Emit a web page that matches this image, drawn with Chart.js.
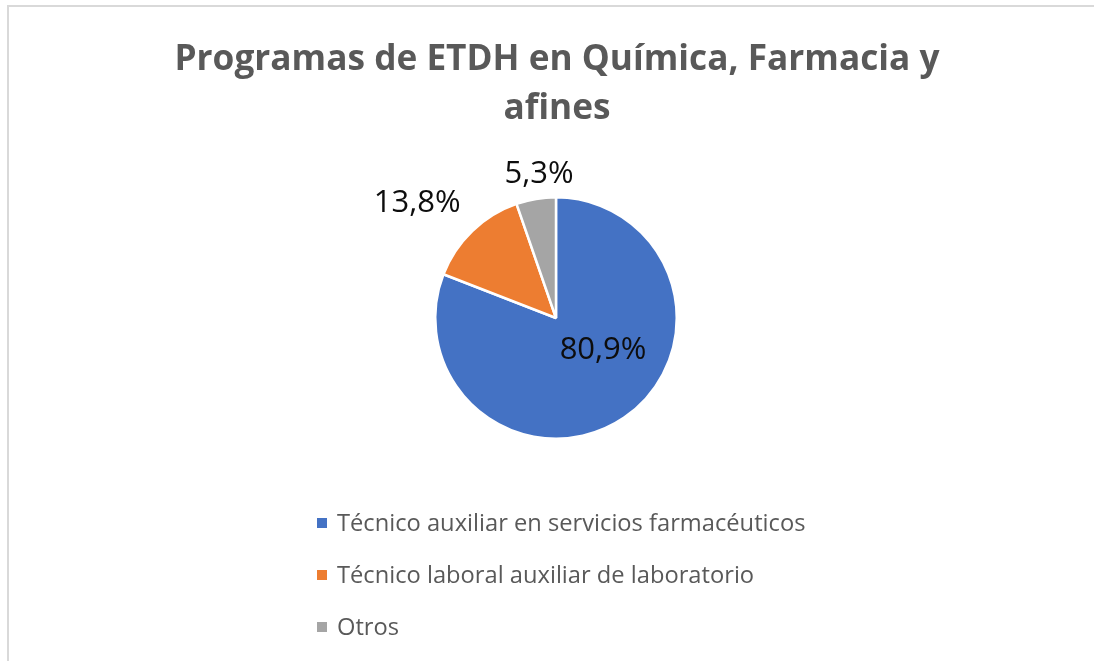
<!DOCTYPE html>
<html>
<head>
<meta charset="utf-8">
<script src="https://cdn.jsdelivr.net/npm/chart.js@4.4.1/dist/chart.umd.min.js"></script>
<style>
  html, body { margin: 0; padding: 0; background: #ffffff; }
  #wrap { position: relative; width: 1094px; height: 661px; overflow: hidden; }
  #frame { position: absolute; left: 7px; top: 5px; width: 1200px; height: 800px;
           border-top: 2px solid #d9d9d9; border-left: 2px solid #d9d9d9; box-sizing: border-box; }
  canvas { position: absolute; left: 0; top: 0; }
</style>
</head>
<body>
<div id="wrap">
  <div id="frame"></div>
  <canvas id="c" width="1094" height="661"></canvas>
</div>
<script>
const titleLines = ['Programas de ETDH en Química, Farmacia y', 'afines'];
const categories = [
  'Técnico auxiliar en servicios farmacéuticos',
  'Técnico laboral auxiliar de laboratorio',
  'Otros'
];
const shares = [80.9, 13.8, 5.3];
const sliceColors = ['#4472C4', '#ED7D31', '#A5A5A5'];
// label placement relative to each slice: angle offset (deg) from slice middle, radius factor
const labelPlacement = [
  { dAngle: -21.6, rFactor: 0.47 },
  { dAngle: -6.6, rFactor: 1.49 },
  { dAngle: 2.8, rFactor: 1.20 }
];

function fmt(v) { return v.toFixed(1).replace('.', ',') + '%'; }

const decorPlugin = {
  id: 'decor',
  afterDraw(chart) {
    const ctx = chart.ctx;
    // Title
    ctx.save();
    ctx.fillStyle = '#595959';
    ctx.font = 'bold 36px "Open Sans"';
    ctx.textBaseline = 'alphabetic';
    ctx.textAlign = 'left';
    const targetW = 765;
    const w1 = ctx.measureText(titleLines[0]).width;
    const k = targetW / w1;
    const cx = 557;
    const baselines = [70, 119];
    titleLines.forEach((line, i) => {
      const w = ctx.measureText(line).width * k;
      ctx.save();
      ctx.translate(cx - w / 2, baselines[i]);
      ctx.scale(k, 1);
      ctx.fillText(line, 0, 0);
      ctx.restore();
    });
    ctx.restore();

    // Data labels
    const meta = chart.getDatasetMeta(0);
    ctx.save();
    ctx.fillStyle = '#0d0d0d';
    ctx.font = '31px "Open Sans"';
    ctx.textAlign = 'center';
    ctx.textBaseline = 'middle';
    meta.data.forEach((arc, i) => {
      const p = arc.getProps(['x', 'y', 'startAngle', 'endAngle', 'outerRadius'], true);
      const mid = (p.startAngle + p.endAngle) / 2 + labelPlacement[i].dAngle * Math.PI / 180;
      const r = p.outerRadius * labelPlacement[i].rFactor;
      ctx.fillText(fmt(chart.data.datasets[0].data[i]), p.x + Math.cos(mid) * r, p.y + Math.sin(mid) * r);
    });
    ctx.restore();

    // Legend
    ctx.save();
    ctx.font = '23.7px "Open Sans"';
    ctx.textAlign = 'left';
    ctx.textBaseline = 'middle';
    const lx = 317, ly0 = 523, step = 52;
    chart.data.labels.forEach((lab, i) => {
      const y = ly0 + i * step;
      ctx.fillStyle = sliceColors[i];
      ctx.fillRect(lx, y - 5, 10, 10);
      ctx.fillStyle = '#595959';
      ctx.fillText(lab, lx + 20, y + 1);
    });
    ctx.restore();
  }
};

new Chart(document.getElementById('c'), {
  type: 'pie',
  data: {
    labels: categories,
    datasets: [{
      data: shares,
      backgroundColor: sliceColors,
      borderColor: '#ffffff',
      borderWidth: 2.5
    }]
  },
  options: {
    responsive: false,
    animation: false,
    layout: { padding: { left: 434, right: 416, top: 196, bottom: 221 } },
    plugins: {
      legend: { display: false },
      title: { display: false },
      tooltip: { enabled: false }
    }
  },
  plugins: [decorPlugin]
});
</script>
</body>
</html>
